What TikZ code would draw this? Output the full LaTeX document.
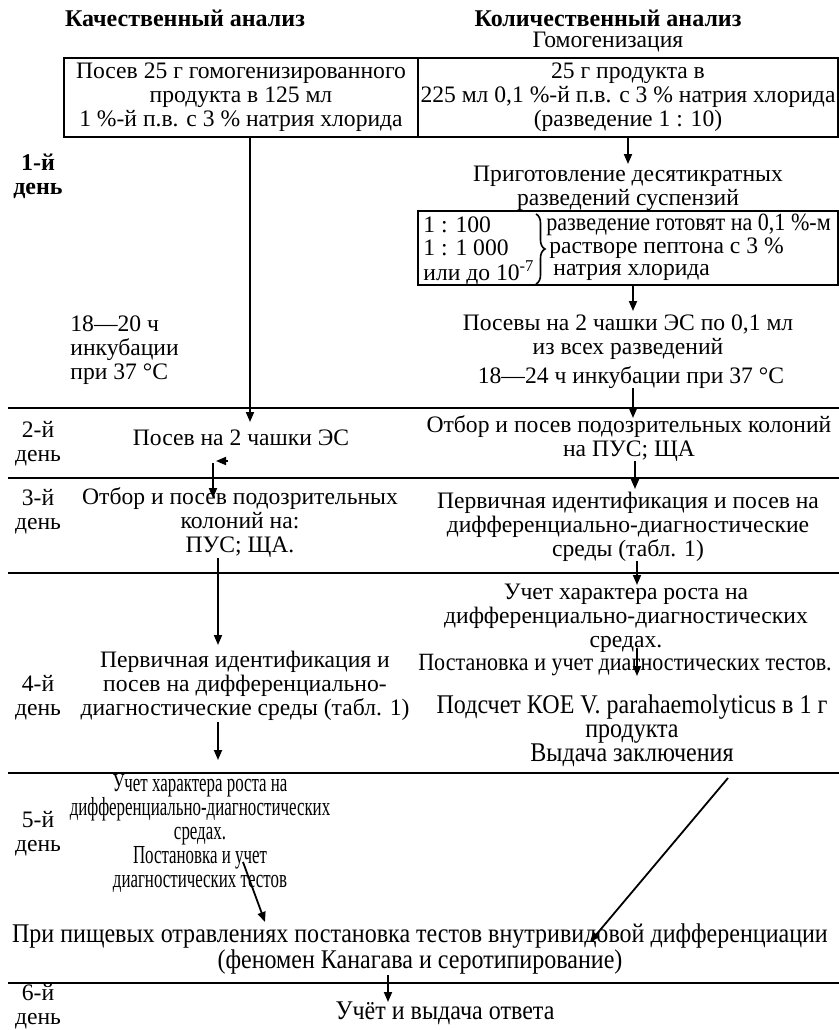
\documentclass[tikz,border=0pt]{standalone}
\usepackage{fontspec}
\setmainfont{Liberation Serif}
\newfontfamily\narrowfont{Liberation Serif}[FakeStretch=0.89]
\newfontfamily\vnarrowfont{Liberation Serif}[FakeStretch=0.65]
\usetikzlibrary{arrows.meta,decorations.pathreplacing}
\begin{document}
\begin{tikzpicture}[x=0.5pt,y=-0.5pt,
  txt/.style={inner sep=0pt, align=center, font=\fontsize{11.8}{12}\selectfont},
  ltxt/.style={inner sep=0pt, align=left, anchor=west, font=\fontsize{11.8}{12}\selectfont},
  ntxt/.style={inner sep=0pt, align=center, font=\narrowfont\fontsize{13.5}{12}\selectfont},
  cntxt/.style={inner sep=0pt, align=center, font=\narrowfont\fontsize{12.4}{12}\selectfont},
  vntxt/.style={inner sep=0pt, align=center, font=\vnarrowfont\fontsize{13}{12}\selectfont},
  btxt/.style={inner sep=0pt, align=center, font=\fontsize{12}{12}\selectfont\bfseries},
  sep/.style={line width=1.3pt},
  box/.style={draw, line width=1.1pt, inner sep=0pt, align=center, font=\fontsize{11.8}{12}\selectfont},
  arr/.style={line width=0.9pt, -{Triangle[length=5pt,width=4pt]}},
]
\useasboundingbox (0,0) rectangle (839,1030);

% headers
\node[btxt] (hdrL) at (185,18) {Качественный анализ};
\node[btxt] (hdrR) at (608,18) {Количественный анализ};
\node[txt] (homog) at (608,42) {Гомогенизация};

% day separators
\draw[sep] (8,408) -- (839,408);
\draw[sep] (8,478) -- (839,478);
\draw[sep] (8,573) -- (839,573);
\draw[sep] (8,773) -- (839,773);
\draw[sep] (8,983) -- (839,983);

% day labels
\node[btxt] (d1) at (38,176) {1-й\\день};
\node[txt] (d2) at (38,444) {2-й\\день};
\node[txt] (d3) at (38,512) {3-й\\день};
\node[txt] (d4) at (38,698) {4-й\\день};
\node[txt] (d5) at (38,834) {5-й\\день};
\node[txt] (d6) at (38,1007) {6-й\\день};

% day 1 boxes
\node[box, minimum width=177pt, minimum height=39.5pt] (lbox) at (241,97.5)
  {Посев 25 г гомогенизированного\\продукта в 125 мл\\1 \%-й п.в. с 3 \% натрия хлорида};
\node[box, minimum width=210pt, minimum height=39.5pt] (rbox) at (628,97.5)
  {25 г продукта в\\225 мл 0,1 \%-й п.в. с 3 \% натрия хлорида\\(разведение 1 : 10)};

\node[txt] (prep) at (628,188.5) {Приготовление десятикратных\\разведений суспензий};

\node[draw, line width=1.1pt, minimum width=210pt, minimum height=37pt, inner sep=0pt] (box2) at (628,248) {};
\node[ltxt] (r1) at (423,225) {1 : 100};
\node[ltxt] (r2) at (423,248) {1 : 1 000};
\node[ltxt] (r3) at (423,273) {или до 10\textsuperscript{-7}};
\draw[line width=0.8pt, decorate, decoration={brace, amplitude=4.5pt}] (536,214) -- (536,284);
\node[ltxt, font=\narrowfont\fontsize{12.4}{12}\selectfont] (t1) at (546,225) {разведение готовят на 0,1 \%-м};
\node[ltxt] (t2) at (549,248) {растворе пептона с 3 \%};
\node[ltxt] (t3) at (553,272) {натрия хлорида};

\node[txt] (posevy) at (628,337) {Посевы на 2 чашки ЭС по 0,1 мл\\из всех разведений};
\node[txt] (incR) at (631,378) {18—24 ч инкубации при 37 °С};
\node[ltxt] (incL) at (70,350) {18—20 ч\\инкубации\\при 37 °С};

% day 2
\node[txt] (posevL) at (241,438) {Посев на 2 чашки ЭС};
\node[txt] (otborR) at (629,439) {Отбор и посев подозрительных колоний\\на ПУС; ЩА};

% day 3
\node[txt] (otborL) at (240,523) {Отбор и посев подозрительных\\колоний на:\\ПУС; ЩА.};
\node[txt] (identR) at (628,527) {Первичная идентификация и посев на\\дифференциально-диагностические\\среды (табл. 1)};

% day 4
\node[txt] (identL) at (245,686) {Первичная идентификация и\\посев на дифференциально-\\диагностические среды (табл. 1)};
\node[txt] (uchetR) at (626,618.5) {Учет характера роста на\\дифференциально-диагностических\\средах.};
\node[cntxt] (postR) at (625,665) {Постановка и учет диагностических тестов.};
\node[ntxt] (kfu) at (632,731) {Подсчет КОЕ V. parahaemolyticus в 1 г\\продукта\\Выдача заключения};

% day 5
\node[vntxt] (uchetL) at (200,833) {Учет характера роста на\\дифференциально-диагностических\\средах.\\Постановка и учет\\диагностических тестов};
\node[ntxt] (pish) at (420,949) {При пищевых отравлениях постановка тестов внутривидовой дифференциации\\(феномен Канагава и серотипирование)};

% day 6
\node[ntxt] (answer) at (445,1013) {Учёт и выдача ответа};

% connectors
\coordinate (a1) at (250,422);
\draw[arr] (lbox.south -| a1) -- (a1);
\coordinate (a2s) at (628,137);
\coordinate (a2e) at (628,164);
\draw[arr] (a2s) -- (a2e);
\coordinate (a3s) at (633,285);
\coordinate (a3e) at (633,311);
\draw[arr] (a3s) -- (a3e);
\coordinate (a4s) at (633,388);
\coordinate (a4e) at (633,418);
\draw[arr] (a4s) -- (a4e);
% small left stub
\coordinate (s1) at (228,461);
\coordinate (s2) at (216,461);
\draw[arr] (s1) -- (s2);
\coordinate (a5s) at (213,463);
\coordinate (a5e) at (213,498);
\draw[arr] (a5s) -- (a5e);
\coordinate (a6s) at (635,461);
\coordinate (a6e) at (635,489);
\draw[arr] (a6s) -- (a6e);
\coordinate (a7s) at (218,558);
\coordinate (a7e) at (218,645);
\draw[arr] (a7s) -- (a7e);
\coordinate (a8s) at (637,561);
\coordinate (a8e) at (637,585);
\draw[arr] (a8s) -- (a8e);
\coordinate (a9s) at (637,648);
\coordinate (a9e) at (637,676);
\draw[arr] (a9s) -- (a9e);
\coordinate (a10s) at (218,722);
\coordinate (a10e) at (218,760);
\draw[arr] (a10s) -- (a10e);
\coordinate (a11s) at (728,778);
\coordinate (a11e) at (590,942);
\draw[arr] (a11s) -- (a11e);
\coordinate (a12s) at (243,862);
\coordinate (a12e) at (265,922);
\draw[arr] (a12s) -- (a12e);
\coordinate (a13s) at (388,975);
\coordinate (a13e) at (388,1002);
\draw[arr] (a13s) -- (a13e);
\end{tikzpicture}
\end{document}
